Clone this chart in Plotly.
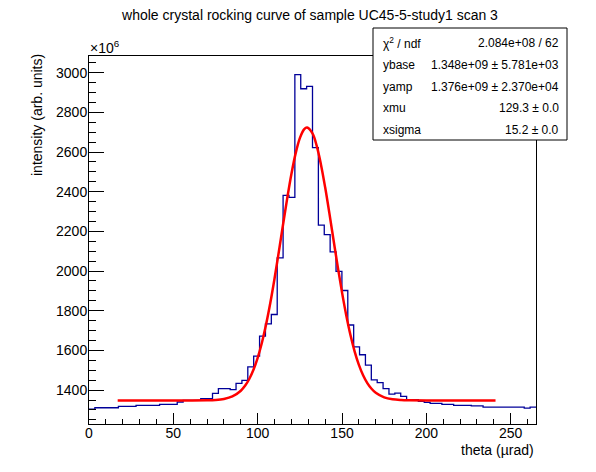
import numpy as np
import plotly.graph_objects as go

# histogram: 76 bins between 0 and 265 urad, counts in units of 1e6
bin_lo = 0.0
bin_hi = 265.0
counts = [1304, 1311, 1311, 1311, 1311, 1318, 1318, 1318, 1323, 1323,
          1323, 1323, 1328, 1328, 1328, 1340, 1348, 1348, 1348, 1357,
          1357, 1383, 1407, 1407, 1402, 1434, 1449, 1517, 1571, 1672,
          1734, 1781, 2066, 2381, 2371, 2990, 2919, 2931, 2622, 2231,
          2184, 2097, 1998, 1902, 1728, 1618, 1578, 1526, 1451, 1438,
          1407, 1380, 1385, 1368, 1352, 1352, 1343, 1338, 1333, 1333,
          1328, 1328, 1323, 1323, 1323, 1320, 1320, 1314, 1314, 1314,
          1314, 1314, 1314, 1314, 1309, 1314]

# fitted gaussian
fit_x = [17, 60, 70, 75, 80, 85, 90, 92.5, 95, 97.5, 100, 102.5, 105, 107.5,
         110, 112.5, 115, 117.5, 120, 122.5, 125, 127.5, 129.3, 132.5, 135,
         137.5, 140, 142.5, 145, 147.5, 150, 152.5, 155, 157.5, 160, 162.5,
         165, 167.5, 170, 175, 180, 185, 190, 200, 241]
fit_y = [1348, 1348, 1348.7, 1350.3, 1355.2, 1367.7, 1396.7, 1421.5, 1455.9,
         1502.3, 1562.7, 1638.8, 1731.4, 1839.9, 1962.5, 2095.0, 2231.9,
         2366.1, 2489.1, 2593.0, 2670.1, 2714.4, 2724, 2693.9, 2630.6, 2537.7,
         2422.0, 2291.8, 2155.2, 2019.9, 1892.3, 1777.3, 1677.6, 1594.2,
         1527.0, 1474.6, 1435.2, 1406.5, 1386.1, 1363.0, 1353.3, 1349.7,
         1348.5, 1348, 1348]

stat_names = ["χ<sup>2</sup> / ndf", "ybase", "yamp", "xmu", "xsigma"]
stat_values = ["2.084e+08 / 62", "1.348e+09 ± 5.781e+03",
               "1.376e+09 ± 2.370e+04", "129.3 ± 0.0", "15.2 ± 0.0"]

W, H = 596, 472
OFF = 8  # page body margin
# frame in screen pixels: x 89..536, y 56..424
FX0, FX1, FY0, FY1 = 89, 536, 56, 424
pw, ph = FX1 - FX0, FY1 - FY0
L, T = FX0 - OFF, FY0 - OFF
R, B = W - L - pw, H - T - ph


def px(x):
    return (x - FX0) / pw


def py(y):
    return (FY1 - y) / ph


edges = np.linspace(bin_lo, bin_hi, len(counts) + 1)
step_y = counts + [counts[-1]]

font = "Liberation Sans, Arial, sans-serif"
fig = go.Figure()
fig.add_trace(go.Scatter(x=edges, y=step_y, mode="lines", line_shape="hv",
                         line=dict(color="#000099", width=1.3),
                         hoverinfo="skip"))
fig.add_trace(go.Scatter(x=fit_x, y=fit_y, mode="lines", line_shape="spline",
                         line=dict(color="#ff0000", width=2.5),
                         hoverinfo="skip"))

fig.update_layout(
    width=W, height=H, showlegend=False,
    margin=dict(l=L, r=R, t=T, b=B),
    paper_bgcolor="white", plot_bgcolor="white",
    font=dict(family=font, size=14, color="black"),
    title=dict(text="whole crystal rocking curve of sample UC45-5-study1 scan 3",
               x=(310 - OFF) / W, xanchor="center",
               y=1 - (15 - OFF) / H, yanchor="middle",
               font=dict(size=14)),
)
fig.update_xaxes(range=[0, 265], tickvals=[0, 50, 100, 150, 200, 250],
                 ticks="inside", ticklen=11, tickcolor="black",
                 ticklabelstandoff=-4,
                 minor=dict(dtick=10, tick0=0, ticks="inside", ticklen=5,
                            tickcolor="black"),
                 showline=True, linecolor="black", linewidth=1, mirror=True,
                 showgrid=False, zeroline=False)
fig.update_yaxes(range=[1229, 3084], dtick=200, tick0=0,
                 ticks="inside", ticklen=15, tickcolor="black",
                 ticklabelstandoff=-2,
                 minor=dict(dtick=50, tick0=0, ticks="inside", ticklen=7,
                            tickcolor="black"),
                 showline=True, linecolor="black", linewidth=1, mirror=True,
                 showgrid=False, zeroline=False)

fig.add_annotation(text="×10<sup>6</sup>", xref="paper", yref="paper",
                   x=px(88), y=py(47), xanchor="left", yanchor="middle",
                   showarrow=False, font=dict(size=14))
fig.add_annotation(text="intensity (arb. units)", xref="paper", yref="paper",
                   x=px(37), y=py(52), xanchor="center", yanchor="top",
                   textangle=-90, showarrow=False, font=dict(size=14))
fig.add_annotation(text="theta (µrad)", xref="paper", yref="paper",
                   x=1, y=py(450), xanchor="right", yanchor="middle",
                   showarrow=False, font=dict(size=14))

# stats box
fig.add_shape(type="rect", xref="paper", yref="paper",
              x0=px(373), x1=px(567), y0=py(140), y1=py(28),
              line=dict(color="black", width=1), fillcolor="white",
              layer="above")
row_y = [43, 65, 87, 108, 130]
for name, val, ry in zip(stat_names, stat_values, row_y):
    fig.add_annotation(text=name, xref="paper", yref="paper",
                       x=px(381), y=py(ry), xanchor="left", yanchor="middle",
                       showarrow=False, font=dict(size=12))
    fig.add_annotation(text=val, xref="paper", yref="paper",
                       x=px(561), y=py(ry), xanchor="right", yanchor="middle",
                       showarrow=False, font=dict(size=12))

fig.write_html("out.html")
